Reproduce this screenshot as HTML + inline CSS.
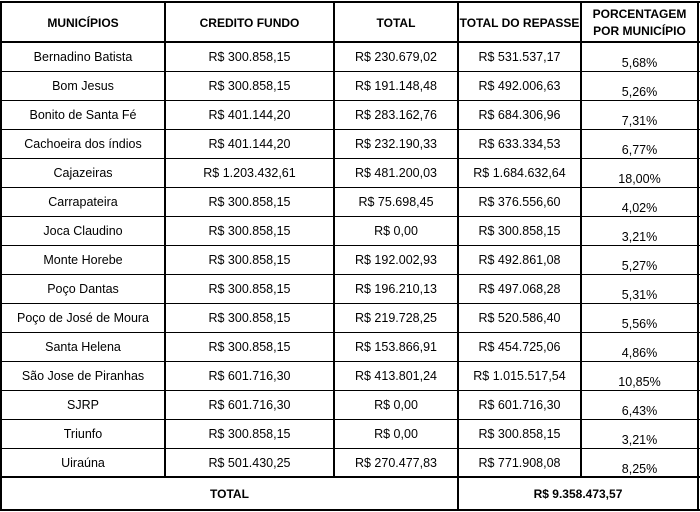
<!DOCTYPE html>
<html><head><meta charset="utf-8"><style>
body{margin:0;width:700px;height:512px;background:#fff;position:relative;overflow:hidden;font-family:"Liberation Sans",sans-serif;font-size:12.5px;color:#000}
.h{position:absolute;background:#000;height:1px}
.v{position:absolute;background:#000;width:2px}
.t{position:absolute;text-align:center;white-space:nowrap}
.b{font-weight:bold;font-size:12px}
</style></head><body>
<div class="h" style="left:0;top:1px;width:700px;height:2px"></div>
<div class="h" style="left:0;top:41px;width:700px;height:2px"></div>
<div class="h" style="left:0;top:476px;width:700px;height:2px"></div>
<div class="h" style="left:0;top:509px;width:700px;height:2px"></div>
<div class="v" style="left:0;top:1px;height:510px"></div>
<div class="v" style="left:697px;top:1px;height:510px"></div>
<div class="v" style="left:164px;top:1px;height:476px"></div>
<div class="v" style="left:333px;top:1px;height:476px"></div>
<div class="v" style="left:457px;top:1px;height:510px"></div>
<div class="v" style="left:580px;top:1px;height:476px"></div>
<div id="rows"></div>
<div class="t b" style="left:2px;width:162px;top:16px">MUNICÍPIOS</div>
<div class="t b" style="left:166px;width:167px;top:16px">CREDITO FUNDO</div>
<div class="t b" style="left:335px;width:122px;top:16px">TOTAL</div>
<div class="t b" style="left:459px;width:121px;top:16px">TOTAL DO REPASSE</div>
<div class="t b" style="left:582px;width:115px;top:6px;line-height:17px">PORCENTAGEM<br>POR MUNICÍPIO</div>
<div class="t b" style="left:2px;width:455px;top:487px">TOTAL</div>
<div class="t b" style="left:459px;width:238px;top:487px">R$ 9.358.473,57</div>
<script>
var d=[["Bernadino Batista","R$ 300.858,15","R$ 230.679,02","R$ 531.537,17","5,68%"],
["Bom Jesus","R$ 300.858,15","R$ 191.148,48","R$ 492.006,63","5,26%"],
["Bonito de Santa Fé","R$ 401.144,20","R$ 283.162,76","R$ 684.306,96","7,31%"],
["Cachoeira dos índios","R$ 401.144,20","R$ 232.190,33","R$ 633.334,53","6,77%"],
["Cajazeiras","R$ 1.203.432,61","R$ 481.200,03","R$ 1.684.632,64","18,00%"],
["Carrapateira","R$ 300.858,15","R$ 75.698,45","R$ 376.556,60","4,02%"],
["Joca Claudino","R$ 300.858,15","R$ 0,00","R$ 300.858,15","3,21%"],
["Monte Horebe","R$ 300.858,15","R$ 192.002,93","R$ 492.861,08","5,27%"],
["Poço Dantas","R$ 300.858,15","R$ 196.210,13","R$ 497.068,28","5,31%"],
["Poço de José de Moura","R$ 300.858,15","R$ 219.728,25","R$ 520.586,40","5,56%"],
["Santa Helena","R$ 300.858,15","R$ 153.866,91","R$ 454.725,06","4,86%"],
["São Jose de Piranhas","R$ 601.716,30","R$ 413.801,24","R$ 1.015.517,54","10,85%"],
["SJRP","R$ 601.716,30","R$ 0,00","R$ 601.716,30","6,43%"],
["Triunfo","R$ 300.858,15","R$ 0,00","R$ 300.858,15","3,21%"],
["Uiraúna","R$ 501.430,25","R$ 270.477,83","R$ 771.908,08","8,25%"]];
var L=[2,166,335,459,582],W=[162,167,122,121,115],h="";
d.forEach(function(r,i){var y=43+29*i;
if(i>0)h+='<div class="h" style="left:0;top:'+(y-1)+'px;width:700px"></div>';
r.forEach(function(c,j){h+='<div class="t" style="left:'+L[j]+'px;width:'+W[j]+'px;top:'+(y+(j==4?13:7))+'px">'+c+'</div>';});});
document.getElementById('rows').innerHTML=h;
</script>
</body></html>
